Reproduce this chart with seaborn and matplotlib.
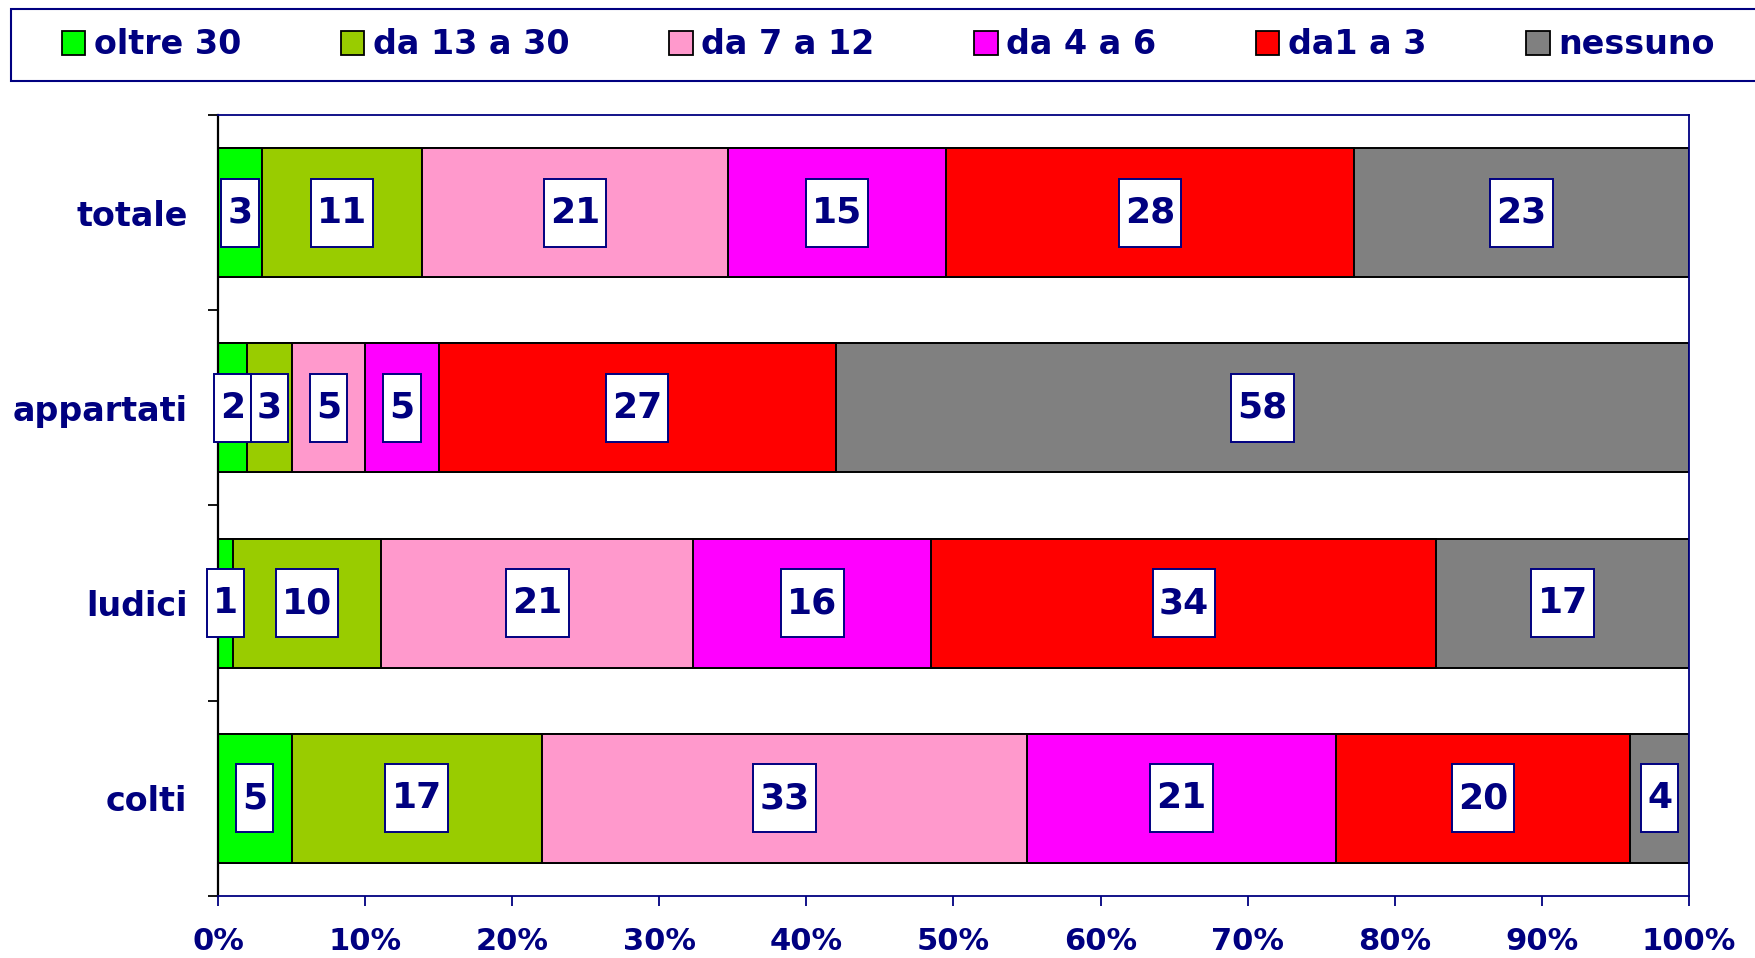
import numpy as np
import pandas as pd
import matplotlib
matplotlib.use("Agg")
import matplotlib.pyplot as plt
from matplotlib.path import Path
from matplotlib.patches import Rectangle, Patch
from matplotlib.ticker import FixedLocator, PercentFormatter
import seaborn as sns

# ---------------- data ----------------
categories = ["totale", "appartati", "ludici", "colti"]
series_names = ["oltre 30", "da 13 a 30", "da 7 a 12", "da 4 a 6", "da1 a 3", "nessuno"]
oltre_30 = [3, 2, 1, 5]
da_13_a_30 = [11, 3, 10, 17]
da_7_a_12 = [21, 5, 21, 33]
da_4_a_6 = [15, 5, 16, 21]
da_1_a_3 = [28, 27, 34, 20]
nessuno = [23, 58, 17, 4]
series_values = [oltre_30, da_13_a_30, da_7_a_12, da_4_a_6, da_1_a_3, nessuno]
series_colors = ["#00FF00", "#99CC00", "#FF99CC", "#FF00FF", "#FF0000", "#808080"]
x_ticks = [0, 0.1, 0.2, 0.3, 0.4, 0.5, 0.6, 0.7, 0.8, 0.9, 1.0]

NAVY = "#000080"

sns.set_theme(style="white")
plt.rcParams["font.family"] = ["DejaVu Sans"]
plt.rcParams["font.weight"] = "bold"

vals = np.array(series_values, dtype=float)          # (series, category)
shares = vals / vals.sum(axis=0, keepdims=True)
cum = np.cumsum(shares, axis=0)
starts = cum - shares

fig = plt.figure(figsize=(17.56, 9.58), dpi=100)
ax = fig.add_axes([218 / 1756, 1 - 896 / 958, (1689 - 218) / 1756, (896 - 115) / 958])

# stacked bars: draw cumulative totals from largest to smallest
for i in range(len(series_names) - 1, -1, -1):
    df = pd.DataFrame({"cat": categories, "cum": cum[i]})
    sns.barplot(data=df, x="cum", y="cat", order=categories, orient="h",
                color=series_colors[i], saturation=1, width=0.66,
                edgecolor="black", linewidth=1.4, ax=ax)


def tall_box(x0, y0, width, height, mutation_size):
    px = 0.17 * mutation_size
    py = 0.47 * mutation_size
    xa, xb = x0 - px, x0 + width + px
    ya, yb = y0 - py, y0 + height + py
    return Path([(xa, ya), (xb, ya), (xb, yb), (xa, yb), (xa, ya)],
                [Path.MOVETO, Path.LINETO, Path.LINETO, Path.LINETO, Path.CLOSEPOLY])


for i in range(len(series_names)):
    for j, cat in enumerate(categories):
        xc = starts[i, j] + shares[i, j] / 2
        ax.text(xc, j, f"{int(vals[i, j])}", ha="center", va="center",
                fontsize=26, fontweight="bold", color=NAVY, zorder=5,
                bbox=dict(boxstyle=tall_box, facecolor="white",
                          edgecolor=NAVY, linewidth=1.4))

ax.set_xlim(0, 1)
ax.set_ylim(3.5, -0.5)
ax.set_xlabel("")
ax.set_ylabel("")

ax.xaxis.set_major_locator(FixedLocator(x_ticks))
ax.xaxis.set_major_formatter(PercentFormatter(1.0, decimals=0))
ax.tick_params(axis="x", which="major", direction="out", length=7, width=1.3,
               color=NAVY, labelcolor=NAVY, labelsize=22, pad=15, bottom=True)

ax.yaxis.set_minor_locator(FixedLocator([-0.5, 0.5, 1.5, 2.5, 3.5]))
ax.tick_params(axis="y", which="major", length=0, labelcolor=NAVY,
               labelsize=24, pad=22)
ax.tick_params(axis="y", which="minor", direction="out", length=7, width=1.3,
               color="black", left=True)
for lab in ax.get_xticklabels() + ax.get_yticklabels():
    lab.set_fontweight("bold")

for side in ["top", "right", "bottom"]:
    ax.spines[side].set_visible(True)
    ax.spines[side].set_color(NAVY)
    ax.spines[side].set_linewidth(1.3)
ax.spines["left"].set_visible(True)
ax.spines["left"].set_color("black")
ax.spines["left"].set_linewidth(1.6)
ax.grid(False)

# legend box
fig.patches.append(Rectangle((11 / 1756, 1 - 81 / 958), 1.2, 72 / 958,
                             transform=fig.transFigure, facecolor="white",
                             edgecolor=NAVY, linewidth=1.5, zorder=0))
handles = [Patch(facecolor=c, edgecolor="black", linewidth=1.3) for c in series_colors]
leg = fig.legend(handles, series_names, loc="center left",
                 bbox_to_anchor=(62 / 1756, 1 - 45 / 958), ncol=6, frameon=False,
                 prop={"size": 24, "weight": "bold"}, handlelength=0.7,
                 handleheight=0.7, handletextpad=0.25, columnspacing=3.0,
                 borderpad=0, borderaxespad=0)
for t in leg.get_texts():
    t.set_color(NAVY)

fig.savefig("out.png", dpi=100)
